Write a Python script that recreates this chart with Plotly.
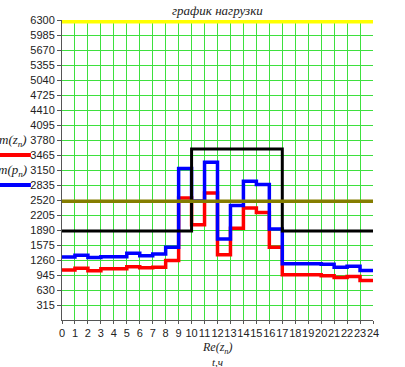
import plotly.graph_objects as go

# ---- data -------------------------------------------------------------
hours = list(range(0, 25))                      # 0 .. 24 (step edges)
x_tick_labels = [str(h) for h in range(0, 25)]
y_tick_values = [315, 630, 945, 1260, 1575, 1890, 2205, 2520, 2835, 3150,
                 3465, 3780, 4095, 4410, 4725, 5040, 5355, 5670, 5985, 6300]

# m(z_n) - red, hourly load
load_z = [1050, 1085, 1035, 1075, 1075, 1120, 1095, 1110, 1250, 2560,
          2000, 2665, 1370, 1925, 2350, 2260, 1530, 948, 948, 948,
          930, 895, 913, 830]
# m(p_n) - blue, hourly load
load_p = [1325, 1360, 1315, 1330, 1330, 1400, 1350, 1385, 1530, 3180,
          2500, 3315, 1700, 2405, 2915, 2845, 1910, 1180, 1180, 1180,
          1170, 1110, 1130, 1040]
# black limit schedule
limit_black = [1870, 1870, 1870, 1870, 1870, 1870, 1870, 1870, 1870, 1870,
               3590, 3590, 3590, 3590, 3590, 3590, 3590, 1870, 1870, 1870,
               1870, 1870, 1870, 1870]
# olive constant level
level_olive = [2495] * 24
# yellow maximum level
level_yellow = [6300] * 24


def edges(vals):
    return vals + [vals[-1]]


fig = go.Figure()

series = [
    (level_yellow, "#ffff00", 7),
    (load_z, "#ff0000", 3.5),
    (load_p, "#0000ff", 3.5),
    (limit_black, "#000000", 3),
    (level_olive, "#857d00", 3.5),
]
for vals, col, w in series:
    fig.add_trace(go.Scatter(
        x=hours, y=edges(vals), mode="lines", line_shape="hv",
        line=dict(color=col, width=w), showlegend=False, hoverinfo="skip"))

grid_col = "#3ee03e"
tick_font = dict(family="Liberation Sans, Arial, sans-serif", size=11, color="#222222")

fig.update_xaxes(
    range=[0, 24], tickmode="array", tickvals=hours, ticktext=x_tick_labels,
    tickangle=0, showgrid=True, gridcolor=grid_col, gridwidth=1,
    zeroline=False, showline=True, linecolor="#555555", linewidth=1,
    ticks="outside", ticklen=3, tickcolor="#555555", tickfont=tick_font,
)
fig.update_yaxes(
    range=[0, 6300], tickmode="array", tickvals=y_tick_values,
    ticktext=[str(v) for v in y_tick_values],
    showgrid=True, gridcolor=grid_col, gridwidth=1,
    zeroline=False, showline=True, linecolor="#555555", linewidth=1,
    ticks="outside", ticklen=4, tickcolor="#555555", tickfont=tick_font,
)

serif_it = "Liberation Serif, Times New Roman, serif"
annotations = [
    dict(text="<i>график нагрузки</i>", x=0.5, y=1.0, yshift=10,
         xref="paper", yref="paper", xanchor="center", yanchor="middle",
         showarrow=False, font=dict(family=serif_it, size=13, color="#222")),
    dict(text="<i>m(z<sub>n</sub>)</i>", x=-0.106, y=0.597,
         xref="paper", yref="paper", xanchor="right", yanchor="middle",
         showarrow=False, font=dict(family=serif_it, size=13, color="#222")),
    dict(text="<i>m(p<sub>n</sub>)</i>", x=-0.106, y=0.497,
         xref="paper", yref="paper", xanchor="right", yanchor="middle",
         showarrow=False, font=dict(family=serif_it, size=13, color="#222")),
    dict(text="<i>Re(z<sub>n</sub>)</i>", x=0.5, y=-0.093,
         xref="paper", yref="paper", xanchor="center", yanchor="middle",
         showarrow=False, font=dict(family=serif_it, size=12, color="#222")),
    dict(text="<i>t,ч</i>", x=0.5, y=-0.14,
         xref="paper", yref="paper", xanchor="center", yanchor="middle",
         showarrow=False, font=dict(family=serif_it, size=11, color="#222")),
]

# legend sample lines under the series labels
shapes = [
    dict(type="line", xref="paper", yref="paper", x0=-0.2, x1=-0.1,
         y0=0.55, y1=0.55, line=dict(color="#ff0000", width=4)),
    dict(type="line", xref="paper", yref="paper", x0=-0.2, x1=-0.1,
         y0=0.45, y1=0.45, line=dict(color="#0000ff", width=4)),
]

fig.update_layout(
    width=405, height=367,
    margin=dict(l=62, r=32, t=20, b=47),
    paper_bgcolor="white", plot_bgcolor="white",
    annotations=annotations, shapes=shapes, showlegend=False,
)

fig.write_html("out.html",
               config={"displayModeBar": False, "staticPlot": True},
               post_script="document.body.style.margin='0';"
                           "document.body.style.overflow='hidden';")
